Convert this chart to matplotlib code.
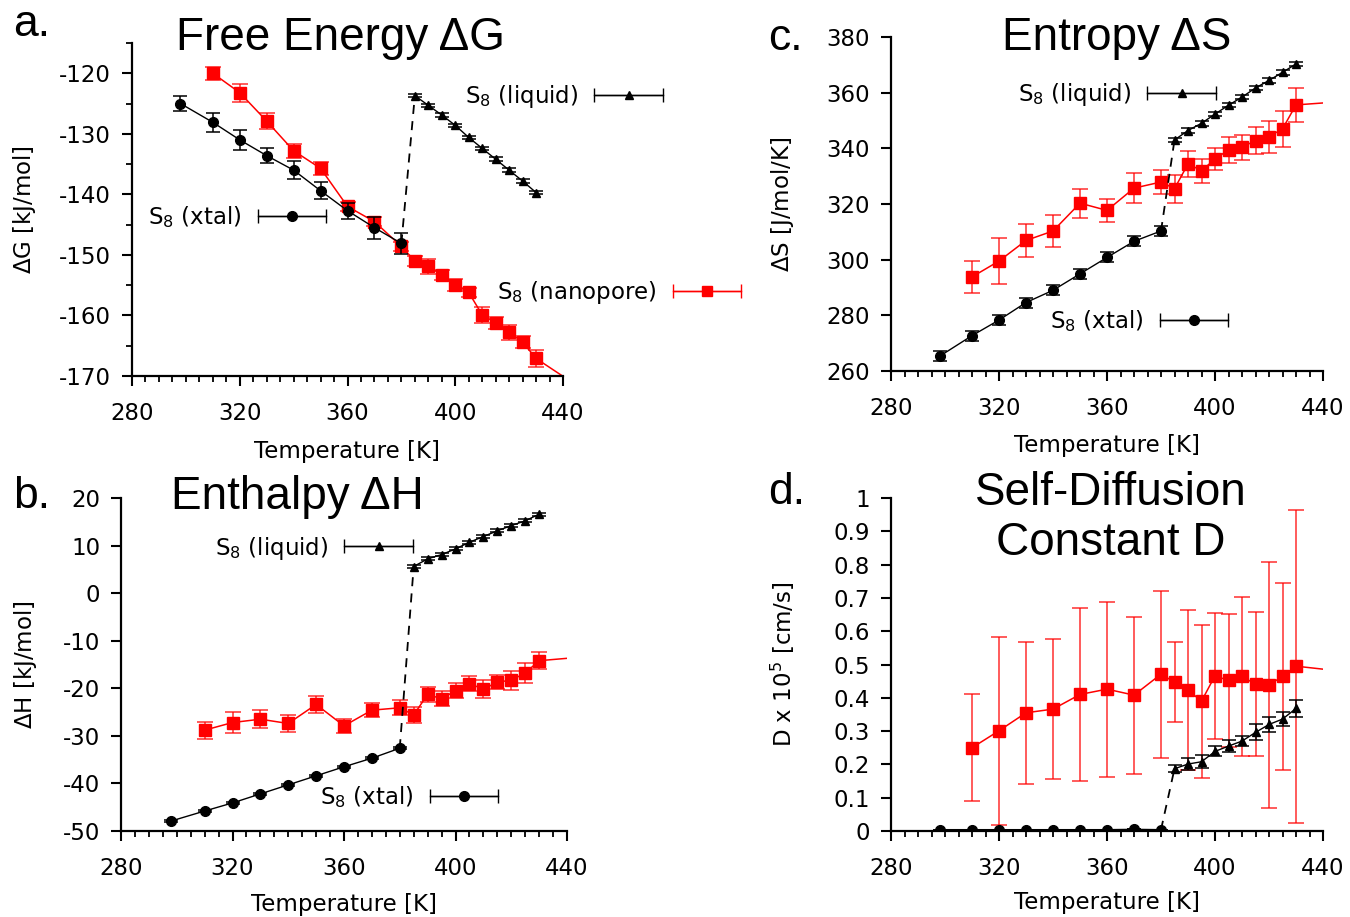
import numpy as np
import matplotlib
matplotlib.use("Agg")
from matplotlib import pyplot as plt
from matplotlib.container import ErrorbarContainer
from matplotlib.legend_handler import HandlerErrorbar

# temperatures [K]
T_xtal = [298, 310, 320, 330, 340, 350, 360, 370, 380]
T_liq = [385, 390, 395, 400, 405, 410, 415, 420, 425, 430]
T_nano = [310, 320, 330, 340, 350, 360, 370, 380, 385, 390, 395, 400,
          405, 410, 415, 420, 425, 430, 450]

# a. free energy dG [kJ/mol]
G_xtal = [-125.0, -128.1, -131.0, -133.6, -136.0, -139.4, -142.7, -145.5, -148.1]
G_xtal_err = [1.3, 1.6, 1.6, 1.2, 1.5, 1.4, 1.3, 1.8, 1.8]
G_liq = [-123.7, -125.3, -126.9, -128.6, -130.6, -132.4, -134.2, -136.0, -137.8, -139.7]
G_liq_err = [0.3] * 10
G_nano = [-120.0, -123.2, -127.9, -132.8, -135.7, -142.0, -144.5, -148.6, -151.0,
          -151.9, -153.3, -154.9, -156.2, -159.9, -161.2, -162.8, -164.4, -167.1, -173.0]
G_nano_err = [1.1, 1.5, 1.3, 1.2, 1.1, 0.8, 0.8, 0.8, 0.8, 1.2, 0.8, 1.0, 0.7,
              1.3, 1.0, 1.2, 1.0, 1.4, 1.0]

# b. enthalpy dH [kJ/mol]
H_xtal = [-47.9, -45.8, -44.1, -42.2, -40.3, -38.4, -36.5, -34.7, -32.6]
H_xtal_err = [0.2] * 9
H_liq = [5.6, 7.2, 8.1, 9.3, 10.7, 11.9, 13.1, 14.2, 15.2, 16.6]
H_liq_err = [0.3] * 10
H_nano = [-28.8, -27.2, -26.5, -27.4, -23.4, -27.9, -24.6, -24.1, -25.6, -21.3,
          -22.2, -20.5, -19.0, -20.2, -18.7, -18.3, -16.8, -14.2, -13.2]
H_nano_err = [1.8, 2.2, 1.9, 1.75, 1.8, 1.5, 1.5, 1.6, 1.75, 1.6, 1.6, 1.6,
              1.5, 1.9, 1.5, 2.0, 2.1, 1.8, 1.8]

# c. entropy dS [J/mol/K]
S_xtal = [265.3, 272.7, 278.3, 284.6, 289.0, 294.9, 300.8, 306.6, 310.3]
S_xtal_err = [1.8] * 9
S_liq = [343.0, 346.4, 349.0, 352.3, 355.5, 358.4, 361.7, 364.4, 367.3, 370.3]
S_liq_err = [0.8] * 10
S_nano = [293.8, 299.5, 306.9, 310.3, 320.3, 317.7, 325.7, 327.9, 325.5, 334.4,
          332.0, 336.1, 339.5, 340.4, 342.8, 344.2, 347.0, 355.6, 357.0]
S_nano_err = [5.8, 8.3, 5.8, 5.6, 5.2, 4.1, 5.5, 4.2, 5.0, 4.8, 4.3, 3.9,
              4.6, 4.5, 5.0, 5.8, 6.4, 6.0, 6.0]

# d. self-diffusion D x 10^5 [cm/s]
D_xtal = [0.004, 0.004, 0.004, 0.004, 0.004, 0.004, 0.004, 0.005, 0.004]
D_liq = [0.187, 0.201, 0.208, 0.239, 0.255, 0.270, 0.296, 0.320, 0.336, 0.368]
D_liq_err = [0.010, 0.019, 0.020, 0.015, 0.018, 0.016, 0.024, 0.023, 0.020, 0.025]
D_nano = [0.250, 0.301, 0.355, 0.366, 0.410, 0.426, 0.408, 0.471, 0.447, 0.423,
          0.390, 0.466, 0.452, 0.464, 0.441, 0.439, 0.464, 0.495, 0.477]
D_nano_err = [0.160, 0.283, 0.213, 0.210, 0.260, 0.263, 0.236, 0.251, 0.121, 0.240,
              0.230, 0.190, 0.200, 0.240, 0.216, 0.370, 0.280, 0.470, 0.30]

W, H = 1350, 917
RED = '#ff0000'
TITLE_FONT = 'Liberation Sans'
FS = 16.5


def fx(x):
    return x / W


def fy(y):
    return 1 - y / H


def box(l, t, r, b):
    return [fx(l), fy(b), (r - l) / W, (b - t) / H]


plt.rcParams['font.size'] = FS
plt.rcParams['mathtext.fontset'] = 'dejavusans'
plt.rcParams['axes.unicode_minus'] = False

fig = plt.figure(figsize=(W / 100, H / 100), dpi=100)


def style(ax, ylim, ymajor, yminor, xlab_y, ylab_x, ylabel):
    ax.set_xlim(280, 440)
    ax.set_ylim(*ylim)
    ax.set_xticks(np.arange(280, 441, 40))
    ax.set_xticks(np.arange(280, 441, 5), minor=True)
    ax.set_yticks(ymajor)
    if yminor is not None:
        ax.set_yticks(yminor, minor=True)
    for s in ['top', 'right']:
        ax.spines[s].set_visible(False)
    for s in ['left', 'bottom']:
        ax.spines[s].set_linewidth(1.6)
    ax.tick_params(which='major', direction='out', length=7, width=1.5, labelsize=FS)
    ax.tick_params(which='minor', direction='out', length=4, width=1.3)
    ax.tick_params(axis='x', which='major', pad=12)
    ax.tick_params(axis='y', which='major', pad=8)
    ax.set_xlabel('Temperature [K]', fontsize=FS)
    ax.set_ylabel(ylabel, fontsize=FS)
    ax.xaxis.label.set_va('center')
    ax.yaxis.label.set_va('center')
    ax.xaxis.set_label_coords(0.5, xlab_y)
    ax.yaxis.set_label_coords(ylab_x, 0.5)


def draw(ax, xtal, xtal_err, liq, liq_err, nano, nano_err):
    ax.errorbar(T_nano, nano, yerr=nano_err, fmt='s-', color=RED, ms=8, lw=1.1,
                ecolor=(1, 0, 0, 0.75), elinewidth=1.2, capsize=5.5, capthick=1.2, zorder=2)
    ax.plot([T_xtal[-1], T_liq[0]], [xtal[-1], liq[0]], color='k', ls=(0, (5, 4)),
            lw=1.3, zorder=3)
    ax.errorbar(T_xtal, xtal, yerr=xtal_err, fmt='o-', color='k', ms=7, lw=1.0,
                elinewidth=1.1, capsize=5, capthick=1.1, zorder=4)
    ax.errorbar(T_liq, liq, yerr=liq_err, fmt='^-', color='k', ms=6, lw=1.0,
                elinewidth=1.1, capsize=5, capthick=1.1, zorder=4)


def key(ax, label, marker, color, ms, x, y):
    h = ax.errorbar([np.nan], [np.nan], xerr=[1], fmt=marker + '-', color=color,
                    ms=ms, lw=1.0, elinewidth=1.0, capsize=5, capthick=1.0)
    fig.legend(handles=[h], labels=[label], loc='center left',
               bbox_to_anchor=(fx(x), fy(y)), bbox_transform=fig.transFigure,
               frameon=False, markerfirst=False, borderpad=0, borderaxespad=0,
               handlelength=3.0, handletextpad=0.7, fontsize=FS,
               handler_map={ErrorbarContainer: HandlerErrorbar(xerr_size=1.5, numpoints=1)})


# a. Free energy
ax_a = fig.add_axes(box(132, 43, 563, 376))
draw(ax_a, G_xtal, G_xtal_err, G_liq, G_liq_err, G_nano, G_nano_err)
style(ax_a, (-170, -115), np.arange(-170, -119, 10), np.arange(-170, -114, 5),
      -0.228, -0.25, r'$\Delta$G [kJ/mol]')
key(ax_a, r'S$_8$ (liquid)', '^', 'k', 6, 465, 97)
key(ax_a, r'S$_8$ (xtal)', 'o', 'k', 7, 148, 217)
key(ax_a, r'S$_8$ (nanopore)', 's', RED, 7, 497, 293)

# b. Enthalpy
ax_b = fig.add_axes(box(121, 498, 567, 831))
draw(ax_b, H_xtal, H_xtal_err, H_liq, H_liq_err, H_nano, H_nano_err)
style(ax_b, (-50, 20), np.arange(-50, 21, 10), None,
      -0.222, -0.215, r'$\Delta$H [kJ/mol]')
key(ax_b, r'S$_8$ (liquid)', '^', 'k', 6, 215, 548)
key(ax_b, r'S$_8$ (xtal)', 'o', 'k', 7, 320, 797)

# c. Entropy
ax_c = fig.add_axes(box(891, 37, 1323, 371))
draw(ax_c, S_xtal, S_xtal_err, S_liq, S_liq_err, S_nano, S_nano_err)
style(ax_c, (260, 380), np.arange(260, 381, 20), None,
      -0.222, -0.25, r'$\Delta$S [J/mol/K]')
key(ax_c, r'S$_8$ (liquid)', '^', 'k', 6, 1018, 95)
key(ax_c, r'S$_8$ (xtal)', 'o', 'k', 7, 1050, 321)

# d. Self-diffusion
ax_d = fig.add_axes(box(891, 498, 1323, 831))
draw(ax_d, D_xtal, [0] * len(D_xtal), D_liq, D_liq_err, D_nano, D_nano_err)
style(ax_d, (0, 1), np.round(np.arange(0, 1.01, 0.1), 1), None,
      -0.216, -0.25, r'D x 10$^5$ [cm/s]')
ax_d.set_yticklabels(['0'] + ['%.1f' % v for v in np.arange(0.1, 0.95, 0.1)] + ['1'])

# titles and panel letters
tkw = dict(family=TITLE_FONT, fontsize=33, ha='center', va='center')
fig.text(fx(340), fy(38), r'Free Energy ΔG', **tkw)
fig.text(fx(297), fy(497), r'Enthalpy ΔH', **tkw)
fig.text(fx(1117), fy(38), r'Entropy ΔS', **tkw)
fig.text(fx(1111), fy(518), 'Self-Diffusion\nConstant D', linespacing=1.15, **tkw)

lkw = dict(family=TITLE_FONT, fontsize=32, ha='left', va='center')
fig.text(fx(13), fy(25), 'a.', **lkw)
fig.text(fx(13), fy(497), 'b.', **lkw)
fig.text(fx(768), fy(38), 'c.', **lkw)
fig.text(fx(768), fy(493), 'd.', **lkw)

fig.savefig('out.png', dpi=100)
